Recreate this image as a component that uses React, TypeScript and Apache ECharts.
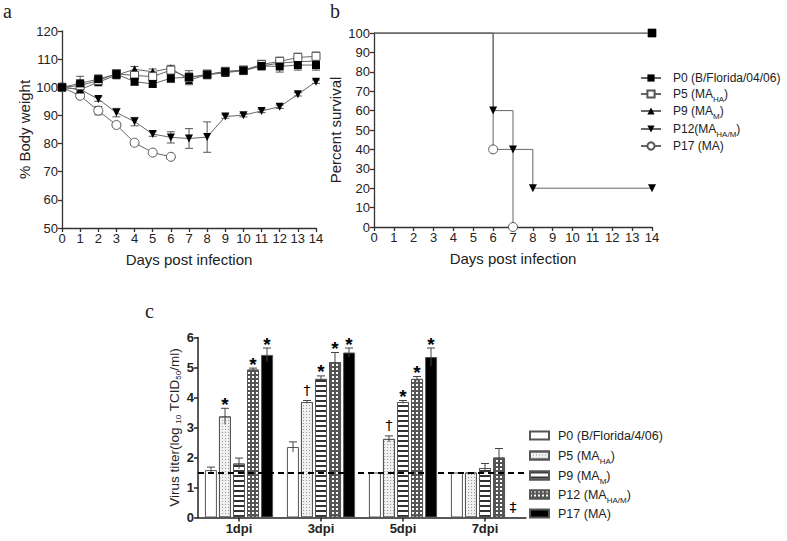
import React, { useEffect, useRef } from "react";
import * as echarts from "echarts";

// ---------- Panel a: body weight ----------
const days = [0, 1, 2, 3, 4, 5, 6, 7, 8, 9, 10, 11, 12, 13, 14];
const weightP0 = [100, 101.4, 102.9, 104.7, 102, 101.2, 103.2, 103.6, 104.5, 105.5, 106, 107.6, 107.4, 107.9, 107.9];
const errWeightP0 = [0, 2.5, 1.5, 1.5, 1.2, 1.2, 1.5, 1.5, 1.5, 1.5, 1.5, 1.5, 2, 1.8, 1.8];
const weightP5 = [100, 100.6, 102.4, 104.8, 104.2, 103.8, 106.1, 103.4, 104.6, 105.6, 106.1, 108.1, 109.2, 110.6, 111];
const errWeightP5 = [0, 1.2, 1.5, 1.5, 1, 1, 1.2, 2.5, 1.5, 1.5, 1.2, 1.5, 1.5, 1.5, 1.5];
const weightP9 = [100, 99.2, 101.8, 104.3, 106.4, 105.5, 106.8, 102.6, 104.4, 105.2, 105.9, 107.6, 108.6, 109.1, 109.3];
const errWeightP9 = [0, 1, 1, 1, 1, 1, 1, 1.2, 1, 1, 1, 1, 1, 1, 1];
const weightP12 = [100, 99.3, 95.8, 91, 87.8, 83.4, 82.2, 81.8, 82.3, 89.6, 90.1, 91.6, 93.1, 97.5, 102];
const errWeightP12 = [0, 1, 0.8, 1.5, 1.5, 0.8, 2, 3.5, 5.4, 0.6, 0.6, 0.6, 0.6, 0.6, 0.6];
const daysP17 = [0, 1, 2, 3, 4, 5, 6];
const weightP17 = [100, 97, 91.7, 86.6, 80.3, 76.8, 75.3];
const errWeightP17 = [0, 1, 1.5, 0.8, 0.8, 0.5, 0.5];

// ---------- Panel b: survival ----------
const survDaysP0 = [0, 14];
const survP0 = [100, 100];
const survMarkP0 = [false, true];
const survDaysP12 = [0, 6, 7, 8, 14];
const survP12 = [100, 60, 40, 20, 20];
const survMarkP12 = [false, true, true, true, true];
const survDaysP17 = [0, 6, 7];
const survP17 = [100, 40, 0];
const survMarkP17 = [false, true, true];

// ---------- Panel c: virus titer ----------
const dpiCats = ["1dpi", "3dpi", "5dpi", "7dpi"];
const titerP0 = [1.58, 2.35, 1.5, 1.5];
const errTiterP0 = [0.1, 0.17, 0, 0];
const marksP0 = ["", "", "", ""];
const titerP5 = [3.37, 3.85, 2.62, 1.5];
const errTiterP5 = [0.27, 0.05, 0.1, 0];
const marksP5 = ["*", "†", "†", ""];
const titerP9 = [1.8, 4.62, 3.85, 1.65];
const errTiterP9 = [0.18, 0.1, 0.05, 0.15];
const marksP9 = ["", "*", "*", ""];
const titerP12 = [4.93, 5.18, 4.62, 2.0];
const errTiterP12 = [0.05, 0.32, 0.08, 0.3];
const marksP12 = ["*", "*", "*", ""];
const titerP17 = [5.42, 5.5, 5.35, 0];
const errTiterP17 = [0.23, 0.15, 0.3, 0];
const marksP17 = ["*", "*", "*", "‡"];
const detectionLimit = 1.5;

const SANS = "'Liberation Sans', Arial, sans-serif";
const SERIF = "'Liberation Serif', 'DejaVu Serif', serif";
const AXIS_COLOR = "#333";
const LINE_COLOR = "#666";

function weightErr(name: string, xs: number[], ys: number[], es: number[]) {
  return {
    type: "custom",
    name,
    xAxisIndex: 0,
    yAxisIndex: 0,
    z: 1,
    data: xs.map((x, i) => [x, ys[i], es[i]]),
    renderItem: (_p: any, api: any) => {
      const x = api.value(0), y = api.value(1), e = api.value(2);
      if (!e) return { type: "group", children: [] };
      const hi = api.coord([x, y + e]);
      const lo = api.coord([x, y - e]);
      const w = 4;
      const st = { stroke: "#555", lineWidth: 1 };
      return {
        type: "group",
        children: [
          { type: "line", shape: { x1: hi[0], y1: hi[1], x2: lo[0], y2: lo[1] }, style: st },
          { type: "line", shape: { x1: hi[0] - w, y1: hi[1], x2: hi[0] + w, y2: hi[1] }, style: st },
          { type: "line", shape: { x1: lo[0] - w, y1: lo[1], x2: lo[0] + w, y2: lo[1] }, style: st },
        ],
      };
    },
  };
}

function weightLine(name: string, xs: number[], ys: number[], symbol: string, size: number, filled: boolean, rotate = 0) {
  return {
    type: "line",
    name,
    xAxisIndex: 0,
    yAxisIndex: 0,
    z: 3,
    data: xs.map((x, i) => [x, ys[i]]),
    symbol,
    symbolSize: size,
    symbolRotate: rotate,
    showAllSymbol: true,
    lineStyle: { color: LINE_COLOR, width: 1 },
    itemStyle: filled
      ? { color: "#000", borderColor: "#000", borderWidth: 0 }
      : { color: "#fff", borderColor: "#555", borderWidth: 1 },
  };
}

function survLine(name: string, xs: number[], ys: number[], marks: boolean[], symbol: string, size: number, filled: boolean, rotate = 0) {
  return {
    type: "line",
    name,
    xAxisIndex: 1,
    yAxisIndex: 1,
    step: "end",
    z: 3,
    data: xs.map((x, i) => (marks[i] ? { value: [x, ys[i]] } : { value: [x, ys[i]], symbol: "none" })),
    symbol,
    symbolSize: size,
    symbolRotate: rotate,
    showAllSymbol: true,
    lineStyle: { color: LINE_COLOR, width: 1 },
    itemStyle: filled
      ? { color: "#000", borderColor: "#000", borderWidth: 0 }
      : { color: "#fff", borderColor: "#555", borderWidth: 1 },
  };
}

const BAR_W = 12;
const barOffsets = [-28, -14, 0, 14, 28];

function titerBar(name: string, vals: number[], color: string, decal: any, withLimit = false) {
  const s: any = {
    type: "bar",
    name,
    xAxisIndex: 2,
    yAxisIndex: 2,
    barWidth: BAR_W,
    barGap: "17%",
    barCategoryGap: "15%",
    z: 2,
    data: vals,
    itemStyle: { color, borderColor: "#555", borderWidth: 1, decal: decal || undefined },
  };
  if (withLimit) {
    s.markLine = {
      silent: true,
      symbol: "none",
      z: 10,
      label: { show: false },
      lineStyle: { color: "#000", width: 2.2, type: [6, 4] },
      data: [{ yAxis: detectionLimit }],
    };
  }
  return s;
}

function titerErr(name: string, vals: number[], errs: number[], marks: string[], idx: number) {
  return {
    type: "custom",
    name,
    xAxisIndex: 2,
    yAxisIndex: 2,
    z: 6,
    data: vals.map((v, i) => [i, v, errs[i]]),
    renderItem: (params: any, api: any) => {
      const ci = api.value(0), v = api.value(1), e = api.value(2);
      const top = api.coord([ci, v + e]);
      const bot = api.coord([ci, v - e]);
      const x = top[0] + barOffsets[idx];
      const children: any[] = [];
      const st = { stroke: "#444", lineWidth: 1 };
      if (e > 0) {
        children.push({ type: "line", shape: { x1: x, y1: top[1], x2: x, y2: bot[1] }, style: st });
        children.push({ type: "line", shape: { x1: x - 4, y1: top[1], x2: x + 4, y2: top[1] }, style: st });
      }
      const m = marks[params.dataIndex];
      if (m) {
        const isStar = m === "*";
        children.push({
          type: "text",
          x,
          y: top[1] - (isStar ? 4 : 11),
          style: {
            text: m,
            fill: "#000",
            fontSize: isStar ? 19 : 14,
            fontWeight: isStar ? "bold" : "normal",
            fontFamily: isStar ? SANS : "'DejaVu Sans', sans-serif",
            align: "center",
            verticalAlign: "middle",
            textAlign: "center",
            textVerticalAlign: "middle",
          },
        });
      }
      return { type: "group", children };
    },
  };
}

function makeRich(gap: number, fs: number) {
  return {
    g: { width: gap },
    n: { fontSize: fs, fontFamily: SANS, color: "#222", lineHeight: 15 },
    s: { fontSize: 8, fontFamily: SANS, color: "#222", verticalAlign: "bottom", lineHeight: 15, padding: [0, 0, -2, 0] },
  };
}

function oneLegend(name: string, label: string, left: number, centerY: number, gap: number, fs: number, icon?: string) {
  const l: any = {
    data: [name],
    left,
    top: centerY - 8,
    orient: "vertical",
    padding: 0,
    itemWidth: icon ? 19 : 20,
    itemHeight: icon ? 8 : 9,
    selectedMode: false,
    formatter: () => label,
    textStyle: { rich: makeRich(gap, fs), fontSize: fs, fontFamily: SANS },
  };
  if (icon) l.icon = icon;
  return l;
}

export default function App() {
  const ref = useRef<HTMLDivElement>(null);
  useEffect(() => {
    if (!ref.current) return;
    const chart = echarts.init(ref.current, undefined, { renderer: "svg" });

    const axisCommon = (fs = 13, bold = false) => ({
      axisLine: { show: true, onZero: false, lineStyle: { color: AXIS_COLOR, width: 1.3 } },
      axisTick: { show: true, inside: false, length: 4, lineStyle: { color: AXIS_COLOR, width: 1.3 } },
      axisLabel: { fontSize: fs, color: "#222", fontFamily: SANS, fontWeight: bold ? "bold" : "normal", margin: 4 },
      splitLine: { show: false },
    });
    const nameStyle = { fontSize: 15, color: "#222", fontFamily: SANS };

    const option: any = {
      animation: false,
      backgroundColor: "#fff",
      textStyle: { fontFamily: SANS },
      grid: [
        { left: 62, top: 31, width: 254, height: 197 },
        { left: 374, top: 33, width: 278, height: 194 },
        { left: 198, top: 337.5, width: 328, height: 180 },
      ],
      xAxis: [
        {
          gridIndex: 0, type: "value", min: 0, max: 14, interval: 1, ...axisCommon(13),
          name: "Days post infection", nameLocation: "middle", nameGap: 24, nameTextStyle: nameStyle,
        },
        {
          gridIndex: 1, type: "value", min: 0, max: 14, interval: 1, ...axisCommon(13),
          name: "Days post infection", nameLocation: "middle", nameGap: 24, nameTextStyle: nameStyle,
        },
        {
          gridIndex: 2, type: "category", data: dpiCats, boundaryGap: true, ...axisCommon(13, true),
          axisTick: { show: true, alignWithLabel: true, length: 4, lineStyle: { color: "#222", width: 1.5 } },
          axisLine: { show: true, onZero: false, lineStyle: { color: "#222", width: 1.5 } },
        },
      ],
      yAxis: [
        {
          gridIndex: 0, type: "value", min: 50, max: 120, interval: 10, ...axisCommon(13),
          name: "% Body weight", nameLocation: "middle", nameGap: 30, nameTextStyle: nameStyle,
        },
        {
          gridIndex: 1, type: "value", min: 0, max: 100, interval: 10, ...axisCommon(13),
          name: "Percent survival", nameLocation: "middle", nameGap: 31, nameTextStyle: nameStyle,
        },
        {
          gridIndex: 2, type: "value", min: 0, max: 6, interval: 1, ...axisCommon(13, true),
          axisTick: { show: true, length: 4, lineStyle: { color: "#222", width: 1.5 } },
          axisLine: { show: true, onZero: false, lineStyle: { color: "#222", width: 1.5 } },
          name: "{n|Virus titer(log }{s|10}{n| TCID}{s|50}{n|/ml)}", nameLocation: "middle", nameGap: 16,
          nameTextStyle: {
            rich: {
              n: { fontSize: 13.5, fontFamily: SANS, color: "#222", lineHeight: 16 },
              s: { fontSize: 8, fontFamily: SANS, color: "#222", verticalAlign: "bottom", lineHeight: 16 },
            },
          },
        },
      ],
      legend: [
        oneLegend("bP0", "{g|}{n|P0 (B/Florida/04/06)}", 640, 80, 7, 12),
        oneLegend("bP5", "{g|}{n|P5 (MA}{s|HA}{n|)}", 640, 96, 7, 12),
        oneLegend("bP9", "{g|}{n|P9 (MA}{s|M}{n|)}", 640, 113, 7, 12),
        oneLegend("bP12", "{g|}{n|P12(MA}{s|HA/M}{n|)}", 640, 131, 7, 12),
        oneLegend("bP17", "{g|}{n|P17 (MA)}", 640, 148, 7, 12),
        oneLegend("cP0", "{g|}{n|P0 (B/Florida/4/06)}", 529, 437, 4, 12.5, "rect"),
        oneLegend("cP5", "{g|}{n|P5 (MA}{s|HA}{n|)}", 529, 457, 4, 12.5, "rect"),
        oneLegend("cP9", "{g|}{n|P9 (MA}{s|M}{n|)}", 529, 477, 4, 12.5, "rect"),
        oneLegend("cP12", "{g|}{n|P12 (MA}{s|HA/M}{n|)}", 529, 496, 4, 12.5, "rect"),
        oneLegend("cP17", "{g|}{n|P17 (MA)}", 529, 515, 4, 12.5, "rect"),
      ],
      graphic: [
        { type: "text", left: 3, top: 1, style: { text: "a", fontSize: 20, fontFamily: SERIF, fill: "#222" } },
        { type: "text", left: 330, top: 1, style: { text: "b", fontSize: 20, fontFamily: SERIF, fill: "#222" } },
        { type: "text", left: 145, top: 301, style: { text: "c", fontSize: 20, fontFamily: SERIF, fill: "#222" } },
      ],
      series: [
        // panel a
        weightErr("eP17", daysP17, weightP17, errWeightP17),
        weightErr("eP12", days, weightP12, errWeightP12),
        weightErr("eP9", days, weightP9, errWeightP9),
        weightErr("eP5", days, weightP5, errWeightP5),
        weightErr("eP0", days, weightP0, errWeightP0),
        weightLine("aP17", daysP17, weightP17, "circle", 9, false),
        weightLine("aP12", days, weightP12, "triangle", 8, true, 180),
        weightLine("aP9", days, weightP9, "triangle", 8, true),
        weightLine("aP5", days, weightP5, "rect", 8, false),
        weightLine("aP0", days, weightP0, "rect", 8, true),
        // panel b
        survLine("bP17", survDaysP17, survP17, survMarkP17, "circle", 9, false),
        survLine("bP12", survDaysP12, survP12, survMarkP12, "triangle", 8, true, 180),
        survLine("bP9", survDaysP0, survP0, survMarkP0, "triangle", 8, true),
        survLine("bP5", survDaysP0, survP0, survMarkP0, "rect", 8, false),
        survLine("bP0", survDaysP0, survP0, survMarkP0, "rect", 8, true),
        // panel c
        titerBar("cP0", titerP0, "#fff", null, true),
        titerBar("cP5", titerP5, "#f0f0f0", { symbol: "rect", symbolSize: 1, color: "#9a9a9a", dashArrayX: [1, 2], dashArrayY: [1, 2] }),
        titerBar("cP9", titerP9, "#fff", { symbol: "rect", symbolSize: 1, color: "#333", dashArrayX: [1, 0], dashArrayY: [1.2, 2.3] }),
        titerBar("cP12", titerP12, "#555", { symbol: "rect", symbolSize: 1, color: "#fff", dashArrayX: [1.3, 1.3], dashArrayY: [1.3, 1.3] }),
        titerBar("cP17", titerP17, "#000", null),
        titerErr("xP0", titerP0, errTiterP0, marksP0, 0),
        titerErr("xP5", titerP5, errTiterP5, marksP5, 1),
        titerErr("xP9", titerP9, errTiterP9, marksP9, 2),
        titerErr("xP12", titerP12, errTiterP12, marksP12, 3),
        titerErr("xP17", titerP17, errTiterP17, marksP17, 4),
      ],
    };
    chart.setOption(option);
    return () => chart.dispose();
  }, []);

  return (
    <div
      ref={ref}
      style={{ position: "fixed", left: 0, top: 0, width: 787, height: 541, background: "#fff" }}
    />
  );
}
